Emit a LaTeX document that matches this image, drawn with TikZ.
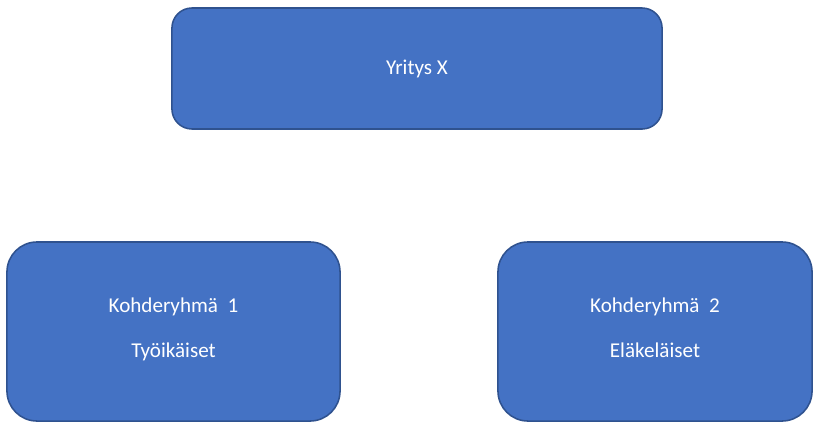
\documentclass[tikz,border=0pt]{standalone}
\usepackage{fontspec}
\setmainfont{Carlito}
\usetikzlibrary{positioning}
\definecolor{boxfill}{HTML}{4472C4}
\definecolor{boxline}{HTML}{2F528F}
\tikzset{group/.style={draw=boxline,fill=boxfill,line width=1.1pt,text=white,
        align=center,font=\fontsize{15}{18}\selectfont}}
\tikzset{company/.style={group,rounded corners=0.5cm,minimum width=12.25cm,minimum height=3.025cm}}
\tikzset{target/.style={group,rounded corners=0.75cm,minimum height=4.475cm}}

\begin{document}
\begin{tikzpicture}[x=0.025cm,y=0.025cm]
    \useasboundingbox (0,0) rectangle (814,423);
    \node[company] (yritys) at (417,354.5) {Yritys X};
    \node[target,minimum width=8.325cm] (ryhma1) at (173.5,91.5) {Kohderyhmä\ \ 1\\[14pt] Työikäiset\\[-12pt]};
    \node[target,minimum width=7.85cm] (ryhma2) at (655,91.5) {Kohderyhmä\ \ 2\\[14pt] Eläkeläiset\\[-12pt]};
\end{tikzpicture}
\end{document}
